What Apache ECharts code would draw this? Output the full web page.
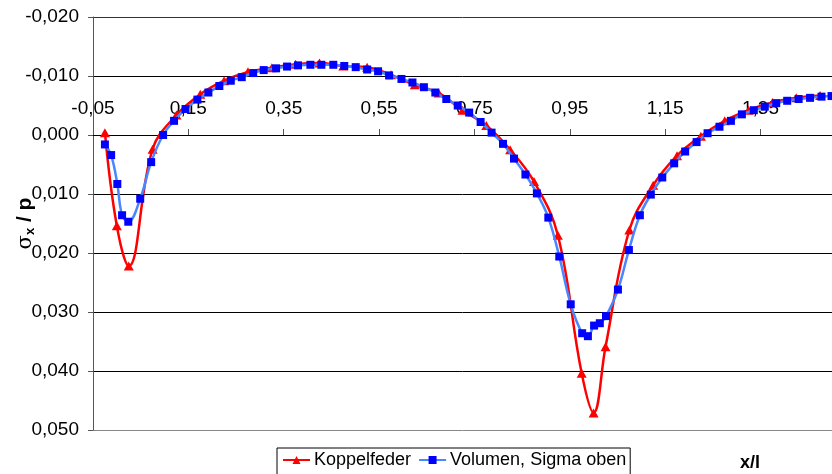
<!DOCTYPE html>
<html>
<head>
<meta charset="utf-8">
<script src="https://cdn.jsdelivr.net/npm/echarts@6/dist/echarts.min.js"></script>
<style>
  html, body { margin: 0; padding: 0; background: #fff; }
  #chart { width: 832px; height: 474px; }
</style>
</head>
<body>
<div id="chart"></div>
<script>
// Stress along the beam: sigma_x / p over x/l for two models
const seriesNames = ['Koppelfeder', 'Volumen, Sigma oben'];

// Koppelfeder model: [x/l, sigma_x/p]
const koppelfeder = [
  [-0.025, -0.0004], [0.0, 0.0154], [0.025, 0.0222], [0.075, 0.0024],
  [0.125, -0.0034], [0.175, -0.0069], [0.225, -0.0092], [0.275, -0.0107],
  [0.325, -0.0114], [0.375, -0.0120], [0.425, -0.0122], [0.475, -0.0117],
  [0.525, -0.0115], [0.575, -0.0102], [0.625, -0.0085], [0.675, -0.0071],
  [0.725, -0.0042], [0.775, -0.0016], [0.825, 0.0025], [0.875, 0.0079],
  [0.925, 0.0170], [0.975, 0.0404], [1.0, 0.0471], [1.025, 0.0359],
  [1.075, 0.0161], [1.125, 0.0085], [1.175, 0.0035], [1.225, 0.0002],
  [1.275, -0.0024], [1.325, -0.0042], [1.375, -0.0055], [1.425, -0.0063],
  [1.475, -0.0067]
];

// Volume model, upper fibre stress: [x/l, sigma_x/p]
const volumenOben = [
  [-0.025, 0.0016], [-0.012, 0.0034], [0.001, 0.0083], [0.011, 0.0136],
  [0.024, 0.0147], [0.049, 0.0108], [0.072, 0.0046], [0.097, 0.0000],
  [0.120, -0.0024], [0.144, -0.0044], [0.169, -0.0060], [0.192, -0.0072],
  [0.215, -0.0083], [0.239, -0.0092], [0.262, -0.0098], [0.286, -0.0105],
  [0.308, -0.0110], [0.334, -0.0113], [0.357, -0.0116], [0.380, -0.0118],
  [0.406, -0.0119], [0.429, -0.0119], [0.454, -0.0119], [0.477, -0.0117],
  [0.501, -0.0115], [0.525, -0.0111], [0.548, -0.0108], [0.571, -0.0101],
  [0.597, -0.0095], [0.620, -0.0089], [0.644, -0.0081], [0.668, -0.0072],
  [0.691, -0.0061], [0.715, -0.0050], [0.739, -0.0038], [0.763, -0.0022],
  [0.786, -0.0004], [0.810, 0.0015], [0.833, 0.0040], [0.857, 0.0067],
  [0.881, 0.0099], [0.905, 0.0140], [0.928, 0.0206], [0.952, 0.0287],
  [0.976, 0.0336], [0.988, 0.0341], [1.001, 0.0323], [1.013, 0.0319],
  [1.026, 0.0307], [1.051, 0.0262], [1.074, 0.0195], [1.097, 0.0136],
  [1.120, 0.0101], [1.144, 0.0072], [1.169, 0.0048], [1.192, 0.0028],
  [1.216, 0.0012], [1.239, -0.0003], [1.264, -0.0014], [1.288, -0.0024],
  [1.311, -0.0035], [1.336, -0.0042], [1.359, -0.0048], [1.383, -0.0054],
  [1.406, -0.0058], [1.430, -0.0061], [1.454, -0.0063], [1.478, -0.0065],
  [1.499, -0.0066]
];

// Axis ranges and tick spacing
const xRange = { min: -0.05, max: 1.5, step: 0.2 };
const yRange = { min: -0.02, max: 0.05, step: 0.01 };
const xAxisTitle = 'x/l';

const FONT = '"Liberation Sans", Arial, sans-serif';

// Plot box in pixels; the x axis crosses at sigma = 0
const PLOT_TOP = 17, PLOT_BOTTOM_GAP = 44, PLOT_H = 474 - PLOT_TOP - PLOT_BOTTOM_GAP;
const zeroOffset = -PLOT_H * (0 - yRange.min) / (yRange.max - yRange.min);

function commaFixed(v, digits) {
  if (Math.abs(v) < 1e-9) v = 0;
  return v.toFixed(digits).replace('.', ',');
}

const chart = echarts.init(document.getElementById('chart'), null, { renderer: 'canvas' });

chart.setOption({
  animation: false,
  backgroundColor: '#ffffff',
  textStyle: { fontFamily: FONT },
  grid: { left: 93, top: PLOT_TOP, right: 0, bottom: PLOT_BOTTOM_GAP, containLabel: false, outerBoundsMode: 'none' },
  xAxis: {
    type: 'value',
    position: 'top',
    offset: zeroOffset,
    min: xRange.min,
    max: xRange.max,
    interval: xRange.step,
    axisLine: { show: true, onZero: false, lineStyle: { color: '#000', width: 1 } },
    axisTick: { show: true, length: 6, lineStyle: { color: '#555' } },
    axisLabel: {
      show: true,
      fontSize: 19, color: '#000', fontFamily: FONT, margin: 17,
      showMaxLabel: false,
      hideOverlap: false,
      formatter: v => commaFixed(v, 2)
    },
    splitLine: { show: false }
  },
  yAxis: {
    type: 'value',
    inverse: true,
    min: yRange.min,
    max: yRange.max,
    interval: yRange.step,
    axisLine: { show: true, onZero: false, lineStyle: { color: '#555', width: 1 } },
    axisTick: { show: true, length: 5, lineStyle: { color: '#555' } },
    axisLabel: {
      fontSize: 19, color: '#000', fontFamily: FONT, margin: 14,
      formatter: v => commaFixed(v, 3)
    },
    splitLine: {
      show: true,
      lineStyle: {
        width: 1,
        color: ['#333', '#000', '#000', '#000', '#000', '#000', '#000', '#888']
      }
    },
    name: '{s|σ}{sub|x}{b| / p}',
    nameLocation: 'middle',
    nameRotate: 90,
    nameGap: 56,
    nameMoveOverlap: false,
    nameTextStyle: {
      rich: {
        s: { fontSize: 21, fontFamily: '"DejaVu Serif", serif', color: '#000' },
        sub: { fontSize: 13, fontWeight: 'bold', fontFamily: FONT, color: '#000', padding: [10, 0, 0, 0] },
        b: { fontSize: 21, fontWeight: 'bold', fontFamily: FONT, color: '#000' }
      }
    }
  },
  legend: {
    data: seriesNames,
    left: 277,
    top: 448,
    orient: 'horizontal',
    borderColor: '#000',
    borderWidth: 1,
    padding: [3, 4, 8, 5],
    itemGap: 7,
    itemWidth: 27,
    itemHeight: 10,
    textStyle: { fontSize: 18, color: '#000', fontFamily: FONT, padding: [0, 0, 0, -1] }
  },
  graphic: [
    {
      type: 'text',
      left: 740,
      top: 454,
      style: { text: xAxisTitle, fontSize: 18, fontWeight: 'bold', fontFamily: FONT, fill: '#000' }
    }
  ],
  series: [
    {
      name: seriesNames[0],
      type: 'line',
      data: koppelfeder,
      smooth: 0.4,
      symbol: 'triangle',
      symbolSize: [10, 9],
      lineStyle: { color: '#ff0000', width: 2.5 },
      itemStyle: { color: '#ff0000' },
      z: 2
    },
    {
      name: seriesNames[1],
      type: 'line',
      data: volumenOben,
      smooth: 0.4,
      symbol: 'rect',
      symbolSize: 8,
      lineStyle: { color: '#4a86ff', width: 2.5 },
      itemStyle: { color: '#0000ff' },
      z: 3
    }
  ]
});
</script>
</body>
</html>
